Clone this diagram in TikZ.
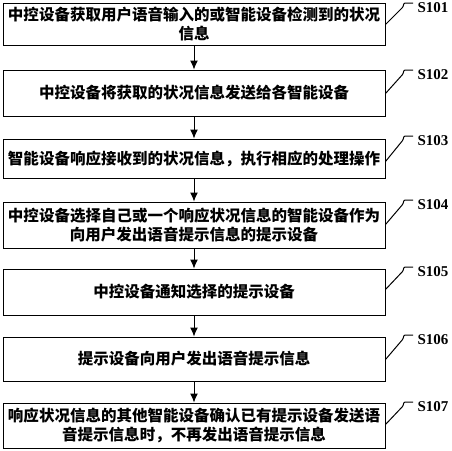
\documentclass[tikz,border=0pt]{standalone}
\usepackage{fontspec}
\usetikzlibrary{arrows.meta}
\newfontfamily\cjk{Noto Sans CJK SC}
\newfontfamily\labfont{Liberation Serif}
\begin{document}
\begin{tikzpicture}[x=1pt,y=-1pt,
  stepbox/.style={draw,line width=1pt,minimum width=382pt,inner sep=2pt,
    align=center,font=\cjk\bfseries\fontsize{15.5}{19}\selectfont},
  steplab/.style={anchor=west,font=\labfont\bfseries\fontsize{15}{15}\selectfont},
  leader/.style={line width=1pt,rounded corners=1pt},
  flow/.style={-{Latex[length=9pt,width=8pt]},line width=1pt}]
  \useasboundingbox (0,0) rectangle (452,450);

  \node[stepbox,minimum height=42pt] (b1) at (194,24)
    {中控设备获取用户语音输入的或智能设备检测到的状况\\信息};
  \node[stepbox,minimum height=46pt] (b2) at (194,93)
    {中控设备将获取的状况信息发送给各智能设备};
  \node[stepbox,minimum height=39pt] (b3) at (194,158.5)
    {智能设备响应接收到的状况信息，执行相应的处理操作};
  \node[stepbox,minimum height=46pt] (b4) at (194,225)
    {中控设备选择自己或一个响应状况信息的智能设备作为\\向用户发出语音提示信息的提示设备};
  \node[stepbox,minimum height=46pt] (b5) at (194,292)
    {中控设备通知选择的提示设备};
  \node[stepbox,minimum height=44pt] (b6) at (194,359)
    {提示设备向用户发出语音提示信息};
  \node[stepbox,minimum height=45pt] (b7) at (194,425.5)
    {响应状况信息的其他智能设备确认已有提示设备发送语\\音提示信息时，不再发出语音提示信息};

  % step labels
  \node[steplab] (l1) at (414,8) {S101};
  \node[steplab] (l2) at (414,75) {S102};
  \node[steplab] (l3) at (414,141) {S103};
  \node[steplab] (l4) at (414,205) {S104};
  \node[steplab] (l5) at (414,272) {S105};
  \node[steplab] (l6) at (414,340) {S106};
  \node[steplab] (l7) at (414,407) {S107};

  \draw[leader] ([yshift=-22pt]b1.north east) -- ([xshift=-11pt,yshift=1pt]l1.west) -- ++(1,-4) -- ++(9,0);
  \draw[leader] ([yshift=-24pt]b2.north east) -- ([xshift=-11pt,yshift=1pt]l2.west) -- ++(1,-4) -- ++(9,0);
  \draw[leader] ([yshift=-23pt]b3.north east) -- ([xshift=-11pt,yshift=1pt]l3.west) -- ++(1,-4) -- ++(9,0);
  \draw[leader] ([yshift=-23pt]b4.north east) -- ([xshift=-11pt,yshift=1pt]l4.west) -- ++(1,-4) -- ++(9,0);
  \draw[leader] ([yshift=-21pt]b5.north east) -- ([xshift=-11pt,yshift=1pt]l5.west) -- ++(1,-4) -- ++(9,0);
  \draw[leader] ([yshift=-23pt]b6.north east) -- ([xshift=-11pt,yshift=1pt]l6.west) -- ++(1,-4) -- ++(9,0);
  \draw[leader] ([yshift=-22pt]b7.north east) -- ([xshift=-11pt,yshift=1pt]l7.west) -- ++(1,-4) -- ++(9,0);

  \draw[flow] (b1) -- (b2);
  \draw[flow] (b2) -- (b3);
  \draw[flow] (b3) -- (b4);
  \draw[flow] (b4) -- (b5);
  \draw[flow] (b5) -- (b6);
  \draw[flow] (b6) -- (b7);
\end{tikzpicture}
\end{document}
